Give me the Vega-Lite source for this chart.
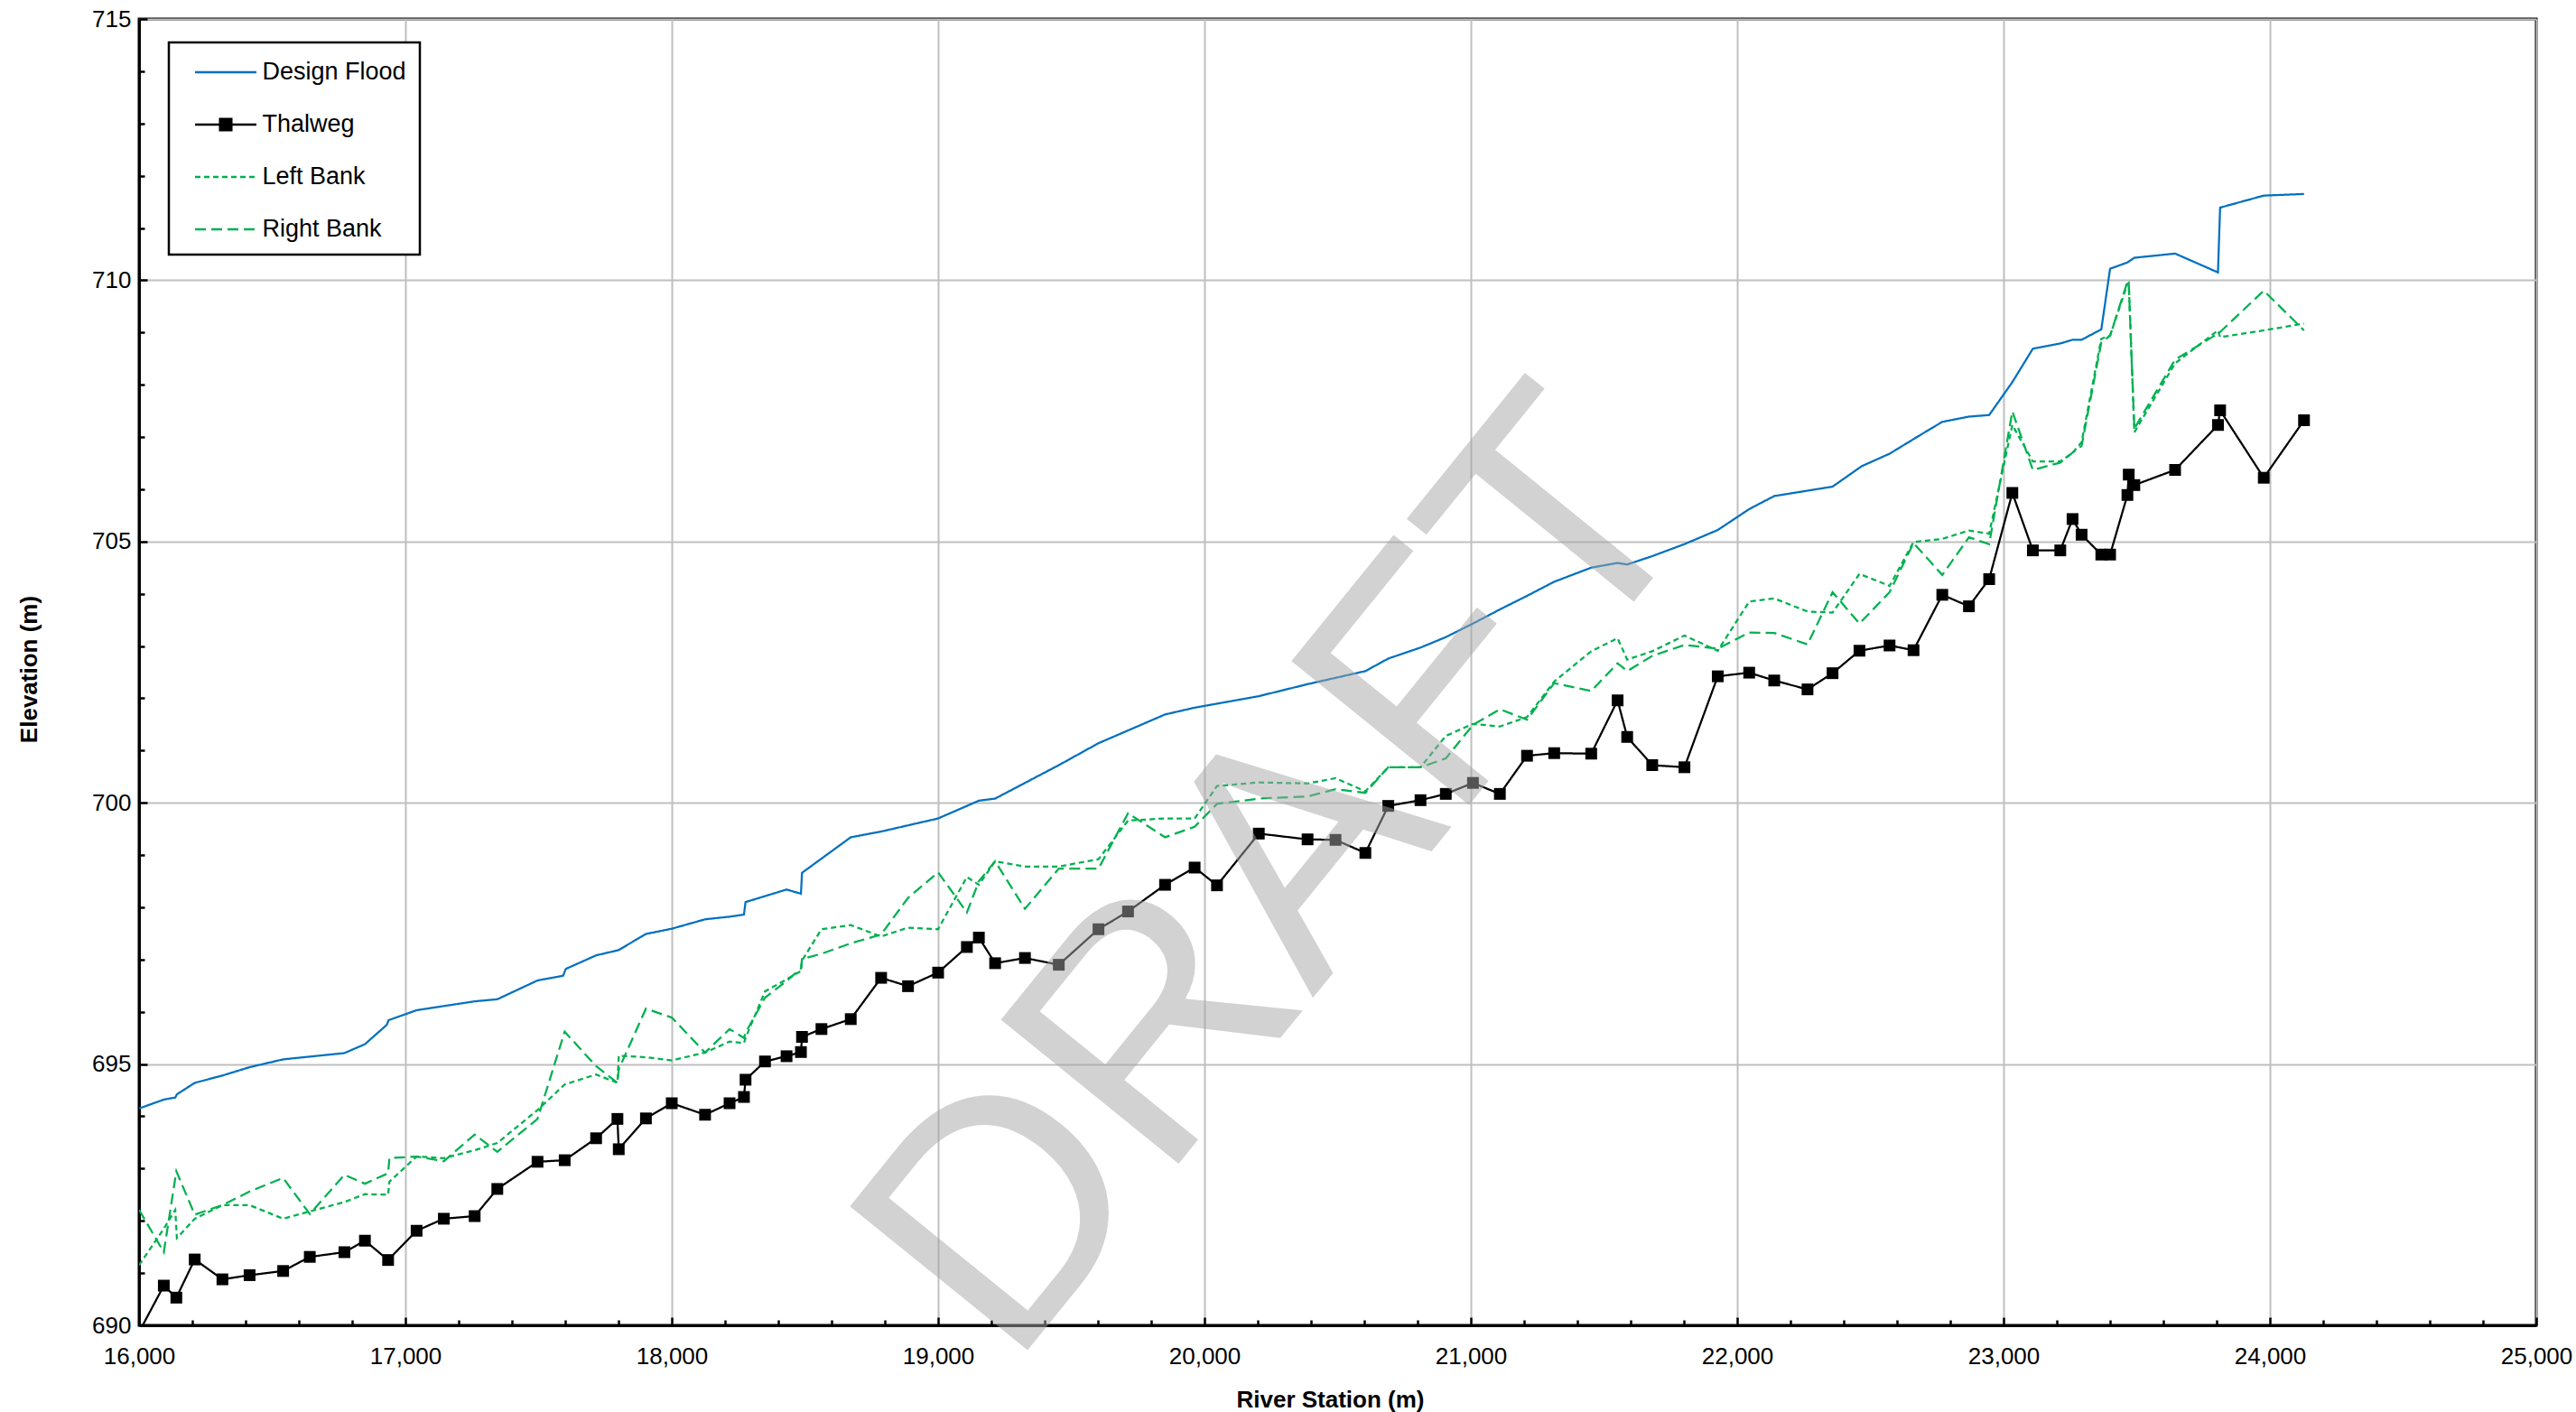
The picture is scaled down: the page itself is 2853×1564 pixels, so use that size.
{
  "$schema": "https://vega.github.io/schema/vega-lite/v6.json",
  "width": 2655,
  "height": 1447,
  "autosize": {"type": "none"},
  "padding": {"left": 154, "top": 21, "right": 44, "bottom": 96},
  "background": "white",
  "config": {
    "font": "Liberation Sans",
    "view": {"stroke": "black", "strokeWidth": 3},
    "axis": {
      "domainColor": "black", "domainWidth": 3,
      "tickColor": "black", "tickWidth": 2.5,
      "labelFont": "Liberation Sans", "labelFontSize": 26, "labelColor": "black",
      "titleFont": "Liberation Sans", "titleFontSize": 26, "titleFontWeight": "bold", "titleColor": "black",
      "gridColor": "#bfbfbf", "gridWidth": 2,
      "labelOverlap": false, "labelFlush": false, "labelBound": false
    }
  },
  "data": {"values": [
    {"series":"Design Flood","station":16000,"elevation":694.15},
    {"series":"Design Flood","station":16093,"elevation":694.32},
    {"series":"Design Flood","station":16136,"elevation":694.36},
    {"series":"Design Flood","station":16142,"elevation":694.42},
    {"series":"Design Flood","station":16209,"elevation":694.64},
    {"series":"Design Flood","station":16313,"elevation":694.78},
    {"series":"Design Flood","station":16415,"elevation":694.94},
    {"series":"Design Flood","station":16541,"elevation":695.09},
    {"series":"Design Flood","station":16771,"elevation":695.21},
    {"series":"Design Flood","station":16848,"elevation":695.38},
    {"series":"Design Flood","station":16930,"elevation":695.75},
    {"series":"Design Flood","station":16937,"elevation":695.84},
    {"series":"Design Flood","station":17042,"elevation":696.03},
    {"series":"Design Flood","station":17144,"elevation":696.11},
    {"series":"Design Flood","station":17260,"elevation":696.20},
    {"series":"Design Flood","station":17345,"elevation":696.24},
    {"series":"Design Flood","station":17496,"elevation":696.60},
    {"series":"Design Flood","station":17592,"elevation":696.69},
    {"series":"Design Flood","station":17602,"elevation":696.82},
    {"series":"Design Flood","station":17716,"elevation":697.08},
    {"series":"Design Flood","station":17800,"elevation":697.18},
    {"series":"Design Flood","station":17903,"elevation":697.49},
    {"series":"Design Flood","station":18000,"elevation":697.59},
    {"series":"Design Flood","station":18125,"elevation":697.77},
    {"series":"Design Flood","station":18217,"elevation":697.82},
    {"series":"Design Flood","station":18271,"elevation":697.86},
    {"series":"Design Flood","station":18277,"elevation":698.10},
    {"series":"Design Flood","station":18431,"elevation":698.34},
    {"series":"Design Flood","station":18485,"elevation":698.26},
    {"series":"Design Flood","station":18489,"elevation":698.66},
    {"series":"Design Flood","station":18672,"elevation":699.34},
    {"series":"Design Flood","station":18786,"elevation":699.45},
    {"series":"Design Flood","station":19000,"elevation":699.70},
    {"series":"Design Flood","station":19153,"elevation":700.04},
    {"series":"Design Flood","station":19214,"elevation":700.08},
    {"series":"Design Flood","station":19453,"elevation":700.72},
    {"series":"Design Flood","station":19602,"elevation":701.14},
    {"series":"Design Flood","station":19852,"elevation":701.69},
    {"series":"Design Flood","station":19963,"elevation":701.82},
    {"series":"Design Flood","station":20204,"elevation":702.04},
    {"series":"Design Flood","station":20387,"elevation":702.27},
    {"series":"Design Flood","station":20604,"elevation":702.52},
    {"series":"Design Flood","station":20690,"elevation":702.76},
    {"series":"Design Flood","station":20811,"elevation":702.97},
    {"series":"Design Flood","station":20906,"elevation":703.17},
    {"series":"Design Flood","station":21008,"elevation":703.43},
    {"series":"Design Flood","station":21109,"elevation":703.70},
    {"series":"Design Flood","station":21211,"elevation":703.96},
    {"series":"Design Flood","station":21313,"elevation":704.23},
    {"series":"Design Flood","station":21452,"elevation":704.50},
    {"series":"Design Flood","station":21551,"elevation":704.59},
    {"series":"Design Flood","station":21587,"elevation":704.56},
    {"series":"Design Flood","station":21681,"elevation":704.72},
    {"series":"Design Flood","station":21802,"elevation":704.95},
    {"series":"Design Flood","station":21927,"elevation":705.22},
    {"series":"Design Flood","station":22045,"elevation":705.62},
    {"series":"Design Flood","station":22139,"elevation":705.87},
    {"series":"Design Flood","station":22358,"elevation":706.05},
    {"series":"Design Flood","station":22467,"elevation":706.44},
    {"series":"Design Flood","station":22572,"elevation":706.68},
    {"series":"Design Flood","station":22688,"elevation":707.04},
    {"series":"Design Flood","station":22770,"elevation":707.29},
    {"series":"Design Flood","station":22870,"elevation":707.39},
    {"series":"Design Flood","station":22946,"elevation":707.42},
    {"series":"Design Flood","station":23033,"elevation":708.05},
    {"series":"Design Flood","station":23110,"elevation":708.69},
    {"series":"Design Flood","station":23213,"elevation":708.79},
    {"series":"Design Flood","station":23259,"elevation":708.86},
    {"series":"Design Flood","station":23293,"elevation":708.86},
    {"series":"Design Flood","station":23367,"elevation":709.06},
    {"series":"Design Flood","station":23400,"elevation":710.22},
    {"series":"Design Flood","station":23465,"elevation":710.34},
    {"series":"Design Flood","station":23491,"elevation":710.43},
    {"series":"Design Flood","station":23644,"elevation":710.51},
    {"series":"Design Flood","station":23805,"elevation":710.15},
    {"series":"Design Flood","station":23813,"elevation":711.39},
    {"series":"Design Flood","station":23977,"elevation":711.62},
    {"series":"Design Flood","station":24128,"elevation":711.65},

    {"series":"Thalweg","station":16000,"elevation":689.87},
    {"series":"Thalweg","station":16093,"elevation":690.76},
    {"series":"Thalweg","station":16140,"elevation":690.53},
    {"series":"Thalweg","station":16209,"elevation":691.26},
    {"series":"Thalweg","station":16313,"elevation":690.88},
    {"series":"Thalweg","station":16415,"elevation":690.96},
    {"series":"Thalweg","station":16541,"elevation":691.04},
    {"series":"Thalweg","station":16641,"elevation":691.31},
    {"series":"Thalweg","station":16771,"elevation":691.40},
    {"series":"Thalweg","station":16848,"elevation":691.62},
    {"series":"Thalweg","station":16935,"elevation":691.25},
    {"series":"Thalweg","station":17042,"elevation":691.81},
    {"series":"Thalweg","station":17144,"elevation":692.04},
    {"series":"Thalweg","station":17260,"elevation":692.09},
    {"series":"Thalweg","station":17345,"elevation":692.61},
    {"series":"Thalweg","station":17496,"elevation":693.13},
    {"series":"Thalweg","station":17598,"elevation":693.16},
    {"series":"Thalweg","station":17716,"elevation":693.58},
    {"series":"Thalweg","station":17796,"elevation":693.95},
    {"series":"Thalweg","station":17801,"elevation":693.37},
    {"series":"Thalweg","station":17903,"elevation":693.96},
    {"series":"Thalweg","station":18000,"elevation":694.25},
    {"series":"Thalweg","station":18125,"elevation":694.03},
    {"series":"Thalweg","station":18217,"elevation":694.25},
    {"series":"Thalweg","station":18271,"elevation":694.37},
    {"series":"Thalweg","station":18277,"elevation":694.70},
    {"series":"Thalweg","station":18350,"elevation":695.05},
    {"series":"Thalweg","station":18431,"elevation":695.15},
    {"series":"Thalweg","station":18485,"elevation":695.23},
    {"series":"Thalweg","station":18489,"elevation":695.52},
    {"series":"Thalweg","station":18562,"elevation":695.67},
    {"series":"Thalweg","station":18672,"elevation":695.86},
    {"series":"Thalweg","station":18786,"elevation":696.65},
    {"series":"Thalweg","station":18887,"elevation":696.49},
    {"series":"Thalweg","station":19000,"elevation":696.75},
    {"series":"Thalweg","station":19108,"elevation":697.24},
    {"series":"Thalweg","station":19153,"elevation":697.42},
    {"series":"Thalweg","station":19214,"elevation":696.93},
    {"series":"Thalweg","station":19326,"elevation":697.03},
    {"series":"Thalweg","station":19453,"elevation":696.90},
    {"series":"Thalweg","station":19602,"elevation":697.58},
    {"series":"Thalweg","station":19713,"elevation":697.92},
    {"series":"Thalweg","station":19852,"elevation":698.43},
    {"series":"Thalweg","station":19963,"elevation":698.76},
    {"series":"Thalweg","station":20047,"elevation":698.42},
    {"series":"Thalweg","station":20204,"elevation":699.41},
    {"series":"Thalweg","station":20387,"elevation":699.30},
    {"series":"Thalweg","station":20492,"elevation":699.29},
    {"series":"Thalweg","station":20604,"elevation":699.04},
    {"series":"Thalweg","station":20690,"elevation":699.94},
    {"series":"Thalweg","station":20811,"elevation":700.05},
    {"series":"Thalweg","station":20906,"elevation":700.17},
    {"series":"Thalweg","station":21008,"elevation":700.38},
    {"series":"Thalweg","station":21109,"elevation":700.17},
    {"series":"Thalweg","station":21211,"elevation":700.90},
    {"series":"Thalweg","station":21313,"elevation":700.95},
    {"series":"Thalweg","station":21452,"elevation":700.94},
    {"series":"Thalweg","station":21551,"elevation":701.96},
    {"series":"Thalweg","station":21587,"elevation":701.26},
    {"series":"Thalweg","station":21681,"elevation":700.72},
    {"series":"Thalweg","station":21802,"elevation":700.68},
    {"series":"Thalweg","station":21927,"elevation":702.42},
    {"series":"Thalweg","station":22045,"elevation":702.49},
    {"series":"Thalweg","station":22139,"elevation":702.34},
    {"series":"Thalweg","station":22264,"elevation":702.17},
    {"series":"Thalweg","station":22358,"elevation":702.48},
    {"series":"Thalweg","station":22459,"elevation":702.91},
    {"series":"Thalweg","station":22572,"elevation":703.01},
    {"series":"Thalweg","station":22662,"elevation":702.92},
    {"series":"Thalweg","station":22770,"elevation":703.98},
    {"series":"Thalweg","station":22870,"elevation":703.76},
    {"series":"Thalweg","station":22946,"elevation":704.28},
    {"series":"Thalweg","station":23033,"elevation":705.93},
    {"series":"Thalweg","station":23110,"elevation":704.83},
    {"series":"Thalweg","station":23213,"elevation":704.83},
    {"series":"Thalweg","station":23259,"elevation":705.43},
    {"series":"Thalweg","station":23293,"elevation":705.13},
    {"series":"Thalweg","station":23367,"elevation":704.75},
    {"series":"Thalweg","station":23400,"elevation":704.75},
    {"series":"Thalweg","station":23465,"elevation":705.89},
    {"series":"Thalweg","station":23470,"elevation":706.28},
    {"series":"Thalweg","station":23491,"elevation":706.08},
    {"series":"Thalweg","station":23644,"elevation":706.37},
    {"series":"Thalweg","station":23805,"elevation":707.23},
    {"series":"Thalweg","station":23813,"elevation":707.51},
    {"series":"Thalweg","station":23977,"elevation":706.22},
    {"series":"Thalweg","station":24128,"elevation":707.32},

    {"series":"Left Bank","station":16000,"elevation":691.15},
    {"series":"Left Bank","station":16093,"elevation":691.85},
    {"series":"Left Bank","station":16136,"elevation":692.21},
    {"series":"Left Bank","station":16142,"elevation":691.67},
    {"series":"Left Bank","station":16209,"elevation":692.04},
    {"series":"Left Bank","station":16313,"elevation":692.30},
    {"series":"Left Bank","station":16415,"elevation":692.30},
    {"series":"Left Bank","station":16541,"elevation":692.04},
    {"series":"Left Bank","station":16641,"elevation":692.18},
    {"series":"Left Bank","station":16771,"elevation":692.36},
    {"series":"Left Bank","station":16848,"elevation":692.51},
    {"series":"Left Bank","station":16935,"elevation":692.50},
    {"series":"Left Bank","station":16940,"elevation":692.75},
    {"series":"Left Bank","station":17042,"elevation":693.23},
    {"series":"Left Bank","station":17144,"elevation":693.20},
    {"series":"Left Bank","station":17260,"elevation":693.35},
    {"series":"Left Bank","station":17345,"elevation":693.49},
    {"series":"Left Bank","station":17496,"elevation":694.12},
    {"series":"Left Bank","station":17598,"elevation":694.61},
    {"series":"Left Bank","station":17716,"elevation":694.80},
    {"series":"Left Bank","station":17796,"elevation":694.64},
    {"series":"Left Bank","station":17801,"elevation":695.16},
    {"series":"Left Bank","station":17903,"elevation":695.13},
    {"series":"Left Bank","station":18000,"elevation":695.07},
    {"series":"Left Bank","station":18125,"elevation":695.22},
    {"series":"Left Bank","station":18217,"elevation":695.43},
    {"series":"Left Bank","station":18271,"elevation":695.40},
    {"series":"Left Bank","station":18277,"elevation":695.50},
    {"series":"Left Bank","station":18350,"elevation":696.39},
    {"series":"Left Bank","station":18431,"elevation":696.62},
    {"series":"Left Bank","station":18485,"elevation":696.78},
    {"series":"Left Bank","station":18489,"elevation":696.98},
    {"series":"Left Bank","station":18562,"elevation":697.58},
    {"series":"Left Bank","station":18672,"elevation":697.66},
    {"series":"Left Bank","station":18786,"elevation":697.44},
    {"series":"Left Bank","station":18887,"elevation":697.61},
    {"series":"Left Bank","station":19000,"elevation":697.58},
    {"series":"Left Bank","station":19108,"elevation":698.58},
    {"series":"Left Bank","station":19153,"elevation":698.43},
    {"series":"Left Bank","station":19214,"elevation":698.88},
    {"series":"Left Bank","station":19326,"elevation":698.78},
    {"series":"Left Bank","station":19453,"elevation":698.78},
    {"series":"Left Bank","station":19602,"elevation":698.92},
    {"series":"Left Bank","station":19713,"elevation":699.66},
    {"series":"Left Bank","station":19852,"elevation":699.70},
    {"series":"Left Bank","station":19963,"elevation":699.70},
    {"series":"Left Bank","station":20047,"elevation":700.32},
    {"series":"Left Bank","station":20204,"elevation":700.39},
    {"series":"Left Bank","station":20387,"elevation":700.37},
    {"series":"Left Bank","station":20492,"elevation":700.47},
    {"series":"Left Bank","station":20604,"elevation":700.22},
    {"series":"Left Bank","station":20690,"elevation":700.68},
    {"series":"Left Bank","station":20811,"elevation":700.68},
    {"series":"Left Bank","station":20906,"elevation":701.28},
    {"series":"Left Bank","station":21008,"elevation":701.51},
    {"series":"Left Bank","station":21109,"elevation":701.46},
    {"series":"Left Bank","station":21211,"elevation":701.64},
    {"series":"Left Bank","station":21313,"elevation":702.32},
    {"series":"Left Bank","station":21452,"elevation":702.90},
    {"series":"Left Bank","station":21551,"elevation":703.15},
    {"series":"Left Bank","station":21587,"elevation":702.74},
    {"series":"Left Bank","station":21681,"elevation":702.90},
    {"series":"Left Bank","station":21802,"elevation":703.20},
    {"series":"Left Bank","station":21927,"elevation":702.91},
    {"series":"Left Bank","station":22045,"elevation":703.85},
    {"series":"Left Bank","station":22139,"elevation":703.91},
    {"series":"Left Bank","station":22264,"elevation":703.66},
    {"series":"Left Bank","station":22358,"elevation":703.64},
    {"series":"Left Bank","station":22459,"elevation":704.38},
    {"series":"Left Bank","station":22572,"elevation":704.15},
    {"series":"Left Bank","station":22662,"elevation":704.99},
    {"series":"Left Bank","station":22770,"elevation":705.05},
    {"series":"Left Bank","station":22870,"elevation":705.21},
    {"series":"Left Bank","station":22946,"elevation":705.15},
    {"series":"Left Bank","station":23033,"elevation":707.23},
    {"series":"Left Bank","station":23110,"elevation":706.53},
    {"series":"Left Bank","station":23213,"elevation":706.53},
    {"series":"Left Bank","station":23259,"elevation":706.70},
    {"series":"Left Bank","station":23293,"elevation":706.90},
    {"series":"Left Bank","station":23367,"elevation":708.88},
    {"series":"Left Bank","station":23400,"elevation":708.94},
    {"series":"Left Bank","station":23465,"elevation":709.93},
    {"series":"Left Bank","station":23470,"elevation":709.95},
    {"series":"Left Bank","station":23491,"elevation":707.09},
    {"series":"Left Bank","station":23644,"elevation":708.41},
    {"series":"Left Bank","station":23805,"elevation":709.04},
    {"series":"Left Bank","station":23813,"elevation":708.91},
    {"series":"Left Bank","station":23977,"elevation":709.04},
    {"series":"Left Bank","station":24128,"elevation":709.17},

    {"series":"Right Bank","station":16000,"elevation":692.21},
    {"series":"Right Bank","station":16093,"elevation":691.40},
    {"series":"Right Bank","station":16140,"elevation":692.95},
    {"series":"Right Bank","station":16209,"elevation":692.12},
    {"series":"Right Bank","station":16313,"elevation":692.30},
    {"series":"Right Bank","station":16415,"elevation":692.56},
    {"series":"Right Bank","station":16541,"elevation":692.82},
    {"series":"Right Bank","station":16641,"elevation":692.13},
    {"series":"Right Bank","station":16771,"elevation":692.88},
    {"series":"Right Bank","station":16848,"elevation":692.71},
    {"series":"Right Bank","station":16935,"elevation":692.91},
    {"series":"Right Bank","station":16940,"elevation":693.20},
    {"series":"Right Bank","station":17042,"elevation":693.23},
    {"series":"Right Bank","station":17144,"elevation":693.14},
    {"series":"Right Bank","station":17260,"elevation":693.65},
    {"series":"Right Bank","station":17345,"elevation":693.32},
    {"series":"Right Bank","station":17496,"elevation":693.95},
    {"series":"Right Bank","station":17598,"elevation":695.62},
    {"series":"Right Bank","station":17716,"elevation":694.96},
    {"series":"Right Bank","station":17796,"elevation":694.64},
    {"series":"Right Bank","station":17801,"elevation":694.90},
    {"series":"Right Bank","station":17903,"elevation":696.06},
    {"series":"Right Bank","station":18000,"elevation":695.89},
    {"series":"Right Bank","station":18125,"elevation":695.22},
    {"series":"Right Bank","station":18217,"elevation":695.67},
    {"series":"Right Bank","station":18271,"elevation":695.50},
    {"series":"Right Bank","station":18277,"elevation":695.60},
    {"series":"Right Bank","station":18350,"elevation":696.27},
    {"series":"Right Bank","station":18431,"elevation":696.59},
    {"series":"Right Bank","station":18485,"elevation":696.83},
    {"series":"Right Bank","station":18489,"elevation":697.01},
    {"series":"Right Bank","station":18562,"elevation":697.11},
    {"series":"Right Bank","station":18672,"elevation":697.31},
    {"series":"Right Bank","station":18786,"elevation":697.48},
    {"series":"Right Bank","station":18887,"elevation":698.18},
    {"series":"Right Bank","station":19000,"elevation":698.67},
    {"series":"Right Bank","station":19108,"elevation":697.90},
    {"series":"Right Bank","station":19153,"elevation":698.50},
    {"series":"Right Bank","station":19214,"elevation":698.88},
    {"series":"Right Bank","station":19326,"elevation":697.97},
    {"series":"Right Bank","station":19453,"elevation":698.74},
    {"series":"Right Bank","station":19602,"elevation":698.74},
    {"series":"Right Bank","station":19713,"elevation":699.80},
    {"series":"Right Bank","station":19852,"elevation":699.34},
    {"series":"Right Bank","station":19963,"elevation":699.54},
    {"series":"Right Bank","station":20047,"elevation":699.98},
    {"series":"Right Bank","station":20204,"elevation":700.08},
    {"series":"Right Bank","station":20387,"elevation":700.12},
    {"series":"Right Bank","station":20492,"elevation":700.26},
    {"series":"Right Bank","station":20604,"elevation":700.19},
    {"series":"Right Bank","station":20690,"elevation":700.68},
    {"series":"Right Bank","station":20811,"elevation":700.68},
    {"series":"Right Bank","station":20906,"elevation":700.85},
    {"series":"Right Bank","station":21008,"elevation":701.49},
    {"series":"Right Bank","station":21109,"elevation":701.79},
    {"series":"Right Bank","station":21211,"elevation":701.59},
    {"series":"Right Bank","station":21313,"elevation":702.29},
    {"series":"Right Bank","station":21452,"elevation":702.14},
    {"series":"Right Bank","station":21551,"elevation":702.67},
    {"series":"Right Bank","station":21587,"elevation":702.52},
    {"series":"Right Bank","station":21681,"elevation":702.81},
    {"series":"Right Bank","station":21802,"elevation":703.02},
    {"series":"Right Bank","station":21927,"elevation":702.95},
    {"series":"Right Bank","station":22045,"elevation":703.26},
    {"series":"Right Bank","station":22139,"elevation":703.25},
    {"series":"Right Bank","station":22264,"elevation":703.03},
    {"series":"Right Bank","station":22358,"elevation":704.03},
    {"series":"Right Bank","station":22459,"elevation":703.43},
    {"series":"Right Bank","station":22572,"elevation":704.03},
    {"series":"Right Bank","station":22662,"elevation":704.97},
    {"series":"Right Bank","station":22770,"elevation":704.36},
    {"series":"Right Bank","station":22870,"elevation":705.08},
    {"series":"Right Bank","station":22946,"elevation":704.95},
    {"series":"Right Bank","station":23033,"elevation":707.49},
    {"series":"Right Bank","station":23110,"elevation":706.37},
    {"series":"Right Bank","station":23213,"elevation":706.51},
    {"series":"Right Bank","station":23259,"elevation":706.70},
    {"series":"Right Bank","station":23293,"elevation":706.83},
    {"series":"Right Bank","station":23367,"elevation":708.81},
    {"series":"Right Bank","station":23400,"elevation":708.94},
    {"series":"Right Bank","station":23465,"elevation":709.97},
    {"series":"Right Bank","station":23470,"elevation":709.95},
    {"series":"Right Bank","station":23491,"elevation":707.16},
    {"series":"Right Bank","station":23644,"elevation":708.48},
    {"series":"Right Bank","station":23805,"elevation":708.98},
    {"series":"Right Bank","station":23813,"elevation":709.01},
    {"series":"Right Bank","station":23977,"elevation":709.80},
    {"series":"Right Bank","station":24128,"elevation":709.04}
  ]},
  "layer": [
    {
      "mark": {"type": "line", "clip": true, "strokeWidth": 2.25, "strokeJoin": "miter"},
      "encoding": {
        "x": {
          "field": "station", "type": "quantitative",
          "scale": {"domain": [16000, 25000], "nice": false, "zero": false},
          "axis": {
            "title": "River Station (m)",
            "values": [16000,16200,16400,16600,16800,17000,17200,17400,17600,17800,18000,18200,18400,18600,18800,19000,19200,19400,19600,19800,20000,20200,20400,20600,20800,21000,21200,21400,21600,21800,22000,22200,22400,22600,22800,23000,23200,23400,23600,23800,24000,24200,24400,24600,24800,25000],
            "labelExpr": "datum.value % 1000 === 0 ? format(datum.value, ',') : ''",
            "tickSize": {"condition": {"test": "datum.value % 1000 === 0", "value": -9}, "value": -6},
            "gridOpacity": {"condition": {"test": "datum.value % 1000 === 0", "value": 1}, "value": 0},
            "labelPadding": 30,
            "titleX": 1319, "titleY": 82, "titleAlign": "center", "titleBaseline": "middle"
          }
        },
        "y": {
          "field": "elevation", "type": "quantitative",
          "scale": {"domain": [690, 715], "nice": false, "zero": false},
          "axis": {
            "title": "Elevation (m)",
            "values": [690,691,692,693,694,695,696,697,698,699,700,701,702,703,704,705,706,707,708,709,710,711,712,713,714,715],
            "labelExpr": "datum.value % 5 === 0 ? format(datum.value, 'd') : ''",
            "tickSize": {"condition": {"test": "datum.value % 5 === 0", "value": -9}, "value": -6},
            "gridOpacity": {"condition": {"test": "datum.value % 5 === 0", "value": 1}, "value": 0},
            "labelPadding": 18,
            "titleX": -122, "titleY": 720, "titleAlign": "center", "titleBaseline": "middle", "titleAngle": -90
          }
        },
        "color": {
          "field": "series", "type": "nominal",
          "scale": {"domain": ["Design Flood", "Thalweg", "Left Bank", "Right Bank"], "range": ["#0070C0", "#000000", "#00B050", "#00B050"]},
          "legend": {
            "title": null, "orient": "none", "legendX": 33, "legendY": 26,
            "padding": 14.5, "rowPadding": 26,
            "strokeColor": "black", "fillColor": "white",
            "labelFont": "Liberation Sans", "labelFontSize": 27, "labelColor": "black", "labelLimit": 400,
            "labelOffset": 22, "symbolOffset": 30, "symbolSize": 1156, "symbolStrokeWidth": 2.5,
            "symbolType": "M-2,0H2",
            "encode": {
              "legend": {"update": {"strokeWidth": {"value": 2.5}}},
              "symbols": {
                "update": {
                  "shape": {"signal": "datum.value === 'Thalweg' ? 'M-2,0H2M-0.37,-0.37H0.37V0.37H-0.37Z' : 'M-2,0H2'"},
                  "fill": {"signal": "datum.value === 'Thalweg' ? 'black' : 'transparent'"},
                  "fillOpacity": {"value": 1}
                }
              }
            }
          }
        },
        "strokeDash": {
          "field": "series", "type": "nominal",
          "scale": {"domain": ["Design Flood", "Thalweg", "Left Bank", "Right Bank"], "range": [[1, 0], [1, 0], [6, 4], [12, 6]]}
        }
      }
    },
    {
      "transform": [{"filter": "datum.series === 'Thalweg'"}],
      "mark": {"type": "square", "filled": true, "color": "black", "size": 169, "opacity": 1, "clip": true},
      "encoding": {
        "x": {"field": "station", "type": "quantitative"},
        "y": {"field": "elevation", "type": "quantitative"}
      }
    },
    {
      "data": {"values": [{"label": "DRAFT"}]},
      "mark": {"type": "text", "font": "Liberation Sans", "fontSize": 368, "angle": 309, "align": "center", "baseline": "middle", "color": "#a6a6a6", "opacity": 0.5},
      "encoding": {
        "x": {"datum": 20290},
        "y": {"datum": 698.55},
        "text": {"field": "label"}
      }
    }
  ]
}
